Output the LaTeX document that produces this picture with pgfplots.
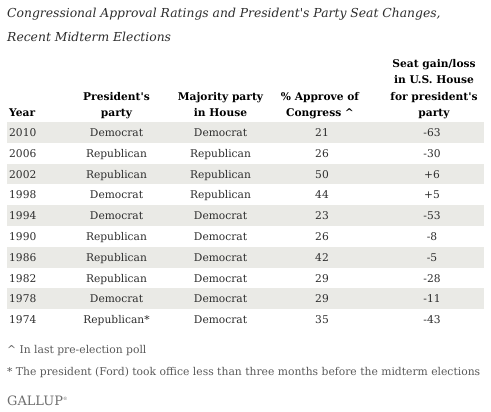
\documentclass[border=0pt]{standalone}
\usepackage{pgfplots}
\pgfplotsset{compat=1.18}
\usepackage{pgfplotstable}
\usepackage{fontspec}
\setmainfont{DejaVu Serif}
\definecolor{band}{RGB}{234,234,230}
\definecolor{txt}{RGB}{45,45,45}
\definecolor{foot}{RGB}{90,90,90}
\definecolor{logo}{RGB}{110,110,110}

\pgfplotstableread[col sep=comma]{
year,pres,maj,appr,seat
2010,Democrat,Democrat,21,-63
2006,Republican,Republican,26,-30
2002,Republican,Republican,50,+6
1998,Democrat,Republican,44,+5
1994,Democrat,Democrat,23,-53
1990,Republican,Democrat,26,-8
1986,Republican,Democrat,42,-5
1982,Republican,Democrat,29,-28
1978,Democrat,Democrat,29,-11
1974,Republican*,Democrat,35,-43
}\elections

\newcommand{\bodyfont}{\fontsize{10.7}{12.8}\selectfont}
\newcommand{\headfont}{\bfseries\fontsize{10.7}{12.8}\selectfont}

\begin{document}
\begin{tikzpicture}
\begin{axis}[
  width=491bp, height=412bp, scale only axis,
  xmin=0, xmax=491, ymin=0, ymax=412, y dir=reverse,
  hide axis, clip=false,
  every node near coord/.append style={font=\bodyfont, text=txt, inner sep=0pt},
]
% background
\addplot[fill=white, draw=none] coordinates {(0,0) (491,0) (491,412) (0,412)} --cycle;
% shaded rows
\addplot[fill=band, draw=none] coordinates {(7,122) (484,122) (484,142.8) (7,142.8)} --cycle;
\addplot[fill=band, draw=none] coordinates {(7,163.6) (484,163.6) (484,184.4) (7,184.4)} --cycle;
\addplot[fill=band, draw=none] coordinates {(7,205.2) (484,205.2) (484,226) (7,226)} --cycle;
\addplot[fill=band, draw=none] coordinates {(7,246.8) (484,246.8) (484,267.6) (7,267.6)} --cycle;
\addplot[fill=band, draw=none] coordinates {(7,288.4) (484,288.4) (484,309.2) (7,309.2)} --cycle;
% cells
\addplot[draw=none, mark=none, nodes near coords, point meta=explicit symbolic,
  every node near coord/.append style={anchor=base west}]
  table[x expr=9, y expr=136.5+20.8*\coordindex, meta=year] {\elections};
\addplot[draw=none, mark=none, nodes near coords, point meta=explicit symbolic,
  every node near coord/.append style={anchor=base}]
  table[x expr=116.5, y expr=136.5+20.8*\coordindex, meta=pres] {\elections};
\addplot[draw=none, mark=none, nodes near coords, point meta=explicit symbolic,
  every node near coord/.append style={anchor=base}]
  table[x expr=220.5, y expr=136.5+20.8*\coordindex, meta=maj] {\elections};
\addplot[draw=none, mark=none, nodes near coords, point meta=explicit symbolic,
  every node near coord/.append style={anchor=base}]
  table[x expr=322, y expr=136.5+20.8*\coordindex, meta=appr] {\elections};
\addplot[draw=none, mark=none, nodes near coords, point meta=explicit symbolic,
  every node near coord/.append style={anchor=base}]
  table[x expr=432, y expr=136.5+20.8*\coordindex, meta=seat] {\elections};

% title
\node[anchor=base west, inner sep=0pt, text=txt, font=\itshape\fontsize{12.4}{15}\selectfont] at (axis cs:7,18) {Congressional Approval Ratings and President\textquotesingle s Party Seat Changes,};
\node[anchor=base west, inner sep=0pt, text=txt, font=\itshape\fontsize{12.4}{15}\selectfont] at (axis cs:7,42) {Recent Midterm Elections};

% headers
\begin{scope}[every node/.style={inner sep=0pt, text=black, font=\headfont}]
\node[anchor=base west] at (axis cs:9,116) {Year};
\node[anchor=base] at (axis cs:116.5,100) {President\textquotesingle s};
\node[anchor=base] at (axis cs:116.5,116) {party};
\node[anchor=base] at (axis cs:220.5,100) {Majority party};
\node[anchor=base] at (axis cs:220.5,116) {in House};
\node[anchor=base] at (axis cs:320,100) {\% Approve of};
\node[anchor=base] at (axis cs:320,116) {Congress \textasciicircum};
\node[anchor=base] at (axis cs:434,68) {Seat gain/loss};
\node[anchor=base] at (axis cs:434,84) {in U.S. House};
\node[anchor=base] at (axis cs:434,100) {for president\textquotesingle s};
\node[anchor=base] at (axis cs:434,116) {party};
\end{scope}

% footnotes
\node[anchor=base west, inner sep=0pt, text=foot, font=\fontsize{10.8}{13}\selectfont] at (axis cs:7,353) {\textasciicircum\ In last pre-election poll};
\node[anchor=base west, inner sep=0pt, text=foot, font=\fontsize{10.8}{13}\selectfont] at (axis cs:7,375) {* The president (Ford) took office less than three months before the midterm elections};
\node[anchor=base west, inner sep=0pt, text=logo, font=\fontsize{13}{15}\selectfont] at (axis cs:7,405) {GALLUP\raisebox{0.7ex}{\fontsize{4.5}{5}\selectfont ®}};
\end{axis}
\end{tikzpicture}
\end{document}
